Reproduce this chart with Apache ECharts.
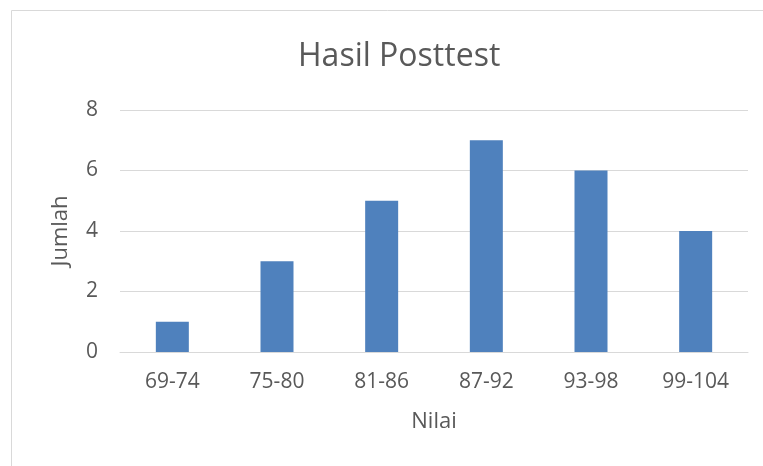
<!DOCTYPE html>
<html>
<head>
<meta charset="utf-8">
<script src="https://cdn.jsdelivr.net/npm/echarts@6/dist/echarts.min.js"></script>
<style>
  html, body { margin: 0; padding: 0; background: #fff; }
  #main { width: 763px; height: 466px; }
</style>
</head>
<body>
<div id="main"></div>
<script>
// data
var nilai = ['69-74', '75-80', '81-86', '87-92', '93-98', '99-104'];
var jumlah = [1, 3, 5, 7, 6, 4];

var fontName = 'Open Sans';
var textColor = '#595959';

var myChart = echarts.init(document.getElementById('main'));
var option = {
  animation: false,
  title: {
    text: 'Hasil Posttest',
    left: 293,
    top: 36,
    textStyle: {
      fontFamily: fontName,
      fontSize: 32,
      fontWeight: 'normal',
      color: textColor
    }
  },
  graphic: {
    elements: [{
      type: 'rect',
      shape: { x: 11.5, y: 10.5, width: 800, height: 500 },
      style: { fill: 'none', stroke: '#d9d9d9', lineWidth: 1 },
      silent: true
    }]
  },
  grid: {
    left: 120,
    right: 15,
    top: 110,
    bottom: 114
  },
  xAxis: {
    type: 'category',
    data: nilai,
    name: 'Nilai',
    nameLocation: 'middle',
    nameGap: 59,
    nameTextStyle: { fontFamily: fontName, fontSize: 22, color: textColor },
    axisLine: { lineStyle: { color: '#d9d9d9', width: 1 } },
    axisTick: { show: false },
    axisLabel: {
      margin: 20,
      fontFamily: fontName,
      fontSize: 21,
      color: textColor
    }
  },
  yAxis: {
    type: 'value',
    min: 0,
    max: 8,
    interval: 2,
    name: 'Jumlah',
    nameLocation: 'middle',
    nameGap: 48,
    nameTextStyle: { fontFamily: fontName, fontSize: 22, color: textColor },
    axisLine: { show: false },
    axisTick: { show: false },
    splitLine: { lineStyle: { color: '#d9d9d9', width: 1 } },
    axisLabel: {
      margin: 22,
      fontFamily: fontName,
      fontSize: 21,
      color: textColor
    }
  },
  series: [{
    type: 'bar',
    data: jumlah,
    barWidth: 33,
    itemStyle: { color: '#4f81bd' }
  }]
};
myChart.setOption(option);
</script>
</body>
</html>
